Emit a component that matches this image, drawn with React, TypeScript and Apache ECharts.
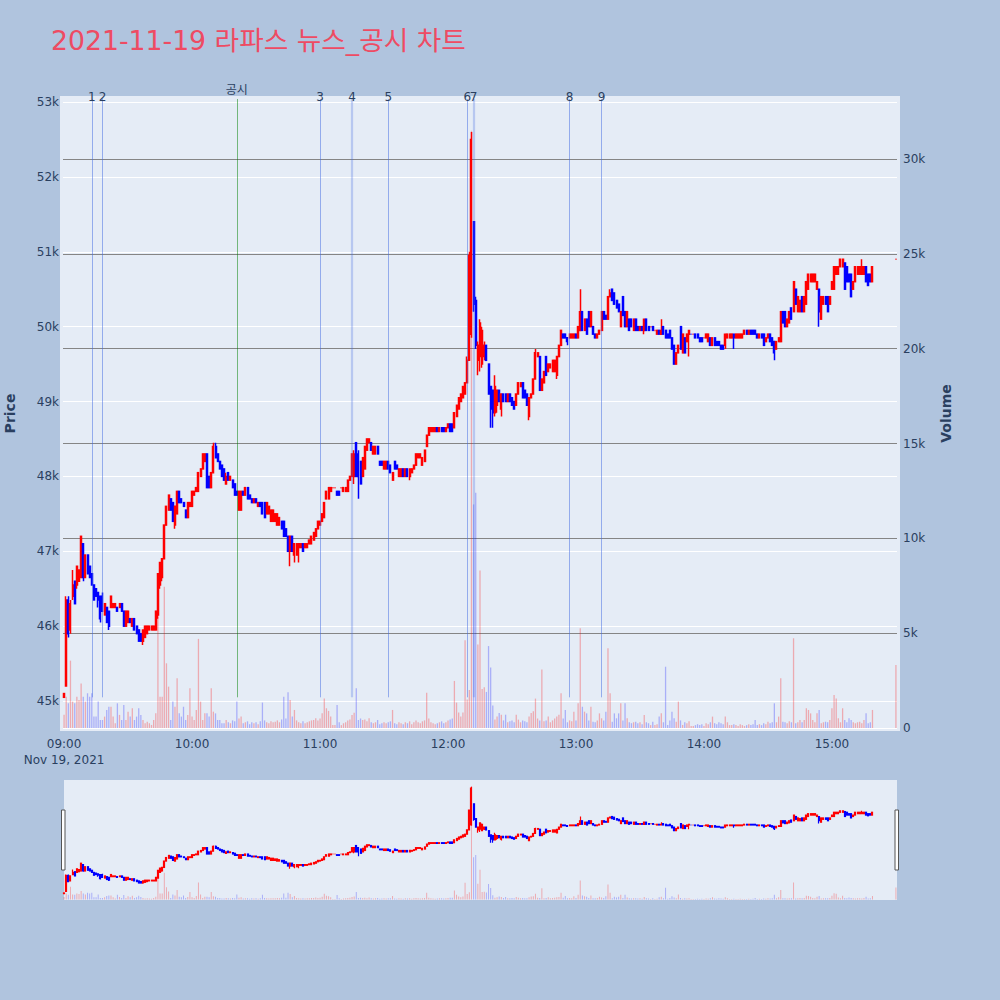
import React, { useEffect, useRef } from "react";
import * as echarts from "echarts";

const titleText = "2021-11-19 라파스 뉴스_공시 차트";
const dateLabel = "Nov 19, 2021";
const hourTicks = ["09:00", "10:00", "11:00", "12:00", "13:00", "14:00", "15:00"];

// one-minute candles starting at 09:00 (index = minutes after 09:00)
const open = [
  45050,45200,46350,45950,46400,46600,46550,46600,46650,47100,
  46650,46950,46800,46700,46550,46500,46450,46400,46400,46150,
  46250,46200,46250,46250,46250,46250,46250,46300,46200,46000,
  46050,46100,46000,46100,46000,45950,45900,45800,45850,45900,
  45950,45950,45950,45950,46150,46550,46650,46900,47350,47550,
  47700,47650,47350,47500,47800,47700,47650,47550,47450,47600,
  47600,47750,47800,47800,48000,48100,48200,48300,48000,47850,
  48050,48400,48300,48200,48150,48100,47900,48050,47950,47950,
  47900,47800,47550,47550,47800,47750,47850,47750,47700,47650,
  47700,47600,47650,47650,47650,47500,47500,47400,47400,47400,
  47350,47350,47400,47400,47300,47200,47000,47200,46950,46950,
  47050,47050,47100,47050,47050,47100,47100,47150,47200,47300,
  47350,47400,47450,47700,47700,47800,47850,47850,47800,47800,
  47850,47800,47800,47800,47950,48000,48000,48450,48300,48200,
  48000,48100,48350,48450,48450,48300,48300,48400,48200,48200,
  48100,48100,48200,48150,47950,48200,48150,48000,48000,48100,
  48000,48100,48000,48050,48100,48150,48250,48250,48150,48200,
  48400,48550,48600,48600,48600,48650,48600,48650,48650,48600,
  48650,48700,48700,48650,48800,48900,49000,49050,49100,49250,
  49550,49900,51400,50350,49550,49600,49500,49600,49750,49500,
  49200,49150,48850,48950,49150,48900,49100,49100,49000,49100,
  49050,49000,48950,49100,49200,49250,49150,49100,48800,49050,
  49100,49300,49600,49600,49150,49250,49600,49400,49450,49400,
  49400,49350,49600,49750,49900,49900,49850,49850,49850,49850,
  49900,49850,49950,50200,49950,50100,50200,50000,50000,49900,
  49850,49900,49950,50200,50150,50100,50400,50500,50450,50350,
  50300,50000,50400,50200,50000,50100,50100,49950,50100,50000,
  49950,50000,49950,50100,50000,50000,50000,49950,49900,49950,
  49900,50000,49950,49900,49950,49850,49750,49500,49650,50000,
  49650,49850,49800,49900,49900,49900,49900,49900,49850,49850,
  49850,49850,49800,49850,49750,49850,49800,49800,49750,49750,
  49750,49850,49850,49850,49900,49850,49850,49850,49850,49900,
  49950,49900,49950,49950,49950,49900,49850,49900,49900,49800,
  49850,49900,49850,49800,49700,49800,49800,50200,50200,50000,
  50050,50250,50200,50500,50200,50200,50400,50200,50300,50500,
  50600,50600,50600,50500,50500,50100,50300,50400,50400,50300,
  50500,50500,50700,50700,50800,50800,50850,50800,50700,50700,
  50500,50600,50700,50700,50700,50700,50800,50700,50700,50600,
];

const close = [
  45100,46350,45900,46300,46550,46300,46800,46750,47200,46650,
  46950,46700,46650,46550,46350,46400,46350,46100,46200,46300,
  46050,46000,46400,46300,46300,46200,46300,46200,46000,46200,
  46200,46050,46100,45950,45900,45800,45800,45950,46000,46000,
  46000,46000,46000,46200,46700,46850,46900,47350,47600,47750,
  47550,47400,47600,47800,47650,47650,47600,47450,47650,47650,
  47800,47800,47850,48050,48100,48300,48300,47850,47850,48050,
  48400,48250,48200,48100,48000,47950,48000,47950,48000,47850,
  47750,47750,47800,47800,47750,47850,47700,47700,47650,47700,
  47650,47650,47600,47500,47450,47650,47600,47550,47550,47500,
  47500,47450,47300,47200,47200,47000,47200,47000,47100,47100,
  47100,47100,47000,47100,47100,47150,47200,47250,47300,47400,
  47400,47500,47650,47800,47850,47850,47850,47850,47750,47750,
  47850,47850,47850,47950,48000,48300,48300,48000,48000,47900,
  48250,48400,48500,48500,48350,48400,48400,48300,48150,48150,
  48200,48200,48100,48050,48050,48100,48100,48100,48100,48000,
  48100,48000,48100,48100,48150,48300,48300,48300,48250,48350,
  48550,48650,48650,48650,48650,48600,48650,48600,48600,48650,
  48700,48600,48600,48850,48950,49050,49100,49200,49250,49550,
  50950,52500,50300,49750,49750,50050,49950,49750,49550,49100,
  48900,48850,49200,49150,49000,49100,49000,49000,49100,49000,
  48950,48900,49100,49250,49250,49050,49050,48950,49050,49100,
  49300,49650,49650,49150,49300,49400,49350,49500,49500,49550,
  49550,49600,49750,49950,49850,49850,49800,49900,49900,49900,
  49850,50000,50200,49950,50100,49900,50000,50200,49900,49850,
  49900,49950,50200,50100,50100,50400,50450,50350,50300,50250,
  50200,50200,50150,50000,50200,49950,50000,50100,49950,49950,
  50000,49950,50100,49950,49950,50000,49950,49950,49950,49900,
  49950,49900,49850,49850,49850,49700,49500,49650,49750,49700,
  49900,49650,49900,49950,49900,49900,49850,49850,49800,49800,
  49850,49900,49900,49750,49850,49750,49750,49750,49700,49700,
  49900,49900,49900,49900,49850,49900,49900,49900,49900,49950,
  49900,49950,49900,49900,49900,49850,49900,49850,49750,49850,
  49900,49800,49750,49650,49800,49850,50200,50050,50000,50100,
  50200,50100,50600,50300,50400,50350,50200,50400,50600,50700,
  50700,50700,50700,50600,50200,50400,50400,50300,50200,50400,
  50600,50800,50800,50800,50900,50900,50500,50600,50600,50400,
  50600,50800,50800,50800,50800,50800,50600,50550,50600,50800,
];

const low = [
  45050,45200,45850,45900,46350,46300,46500,46600,46650,46600,
  46650,46700,46650,46550,46350,46400,46250,46050,46200,46150,
  46050,45950,46250,46250,46250,46200,46250,46200,46000,46000,
  46050,46050,46000,45950,45900,45800,45800,45750,45850,45900,
  45950,45950,45950,45950,46100,46500,46600,46900,47350,47550,
  47550,47400,47300,47500,47650,47650,47600,47450,47450,47600,
  47600,47750,47800,47800,48000,48100,48200,47850,47850,47850,
  48050,48250,48200,48100,48000,47950,47900,47950,47950,47850,
  47750,47750,47550,47550,47750,47750,47700,47700,47650,47650,
  47650,47600,47600,47500,47450,47500,47500,47400,47400,47400,
  47350,47350,47300,47200,47200,47000,46800,47000,46850,46950,
  46850,47050,47000,47050,47050,47100,47100,47150,47200,47300,
  47350,47400,47450,47700,47700,47800,47850,47850,47750,47750,
  47850,47800,47800,47800,47950,48000,47900,48000,47700,47900,
  48000,48100,48350,48450,48350,48300,48300,48300,48150,48150,
  48100,48100,48100,48050,47950,48100,48100,48000,48000,48000,
  48000,48000,47950,48050,48100,48150,48250,48250,48150,48200,
  48400,48550,48600,48600,48600,48600,48600,48600,48600,48600,
  48650,48600,48600,48650,48800,48900,49000,49050,49100,49250,
  49550,49850,50200,49700,49350,49400,49450,49550,49550,49100,
  48650,48650,48800,48850,49000,48800,49000,49000,49000,49000,
  48950,48900,48950,49100,49200,49050,49050,48950,48750,49050,
  49100,49300,49600,49150,49150,49250,49350,49400,49450,49400,
  49400,49300,49600,49750,49850,49850,49750,49850,49850,49850,
  49850,49850,49950,49950,49950,49900,50000,50000,49900,49850,
  49850,49900,49950,50100,50100,50100,50400,50350,50300,50250,
  50200,50000,50150,50000,50000,49950,50000,49950,49950,49950,
  49950,49950,49900,49950,49950,50000,49950,49950,49900,49900,
  49900,49900,49850,49850,49850,49700,49500,49500,49650,49700,
  49650,49650,49800,49600,49900,49900,49850,49850,49800,49800,
  49850,49850,49800,49750,49750,49750,49750,49750,49700,49700,
  49700,49850,49850,49850,49700,49850,49850,49850,49850,49900,
  49900,49900,49900,49900,49900,49850,49850,49850,49750,49800,
  49850,49800,49750,49550,49700,49800,49800,50050,50000,50000,
  50050,50100,50200,50300,50200,50200,50200,50200,50300,50500,
  50600,50600,50600,50500,50000,50100,50300,50300,50200,50300,
  50500,50500,50700,50700,50800,50800,50500,50600,50600,50400,
  50500,50600,50700,50700,50700,50700,50600,50550,50600,50600,
];

const high = [
  45100,46400,46400,46350,46750,46600,46800,46750,47200,47100,
  46950,46950,46800,46700,46550,46500,46450,46400,46450,46300,
  46250,46200,46400,46300,46300,46250,46300,46300,46200,46200,
  46200,46100,46100,46100,46000,45950,45900,45950,46000,46000,
  46000,46000,46000,46200,46700,46850,46900,47350,47600,47750,
  47700,47650,47600,47800,47800,47700,47650,47550,47650,47650,
  47800,47800,47850,48050,48100,48300,48300,48300,48000,48050,
  48450,48450,48300,48200,48150,48100,48050,48050,48000,47950,
  47900,47800,47800,47800,47800,47850,47850,47750,47700,47700,
  47700,47650,47650,47650,47650,47650,47600,47550,47550,47500,
  47500,47450,47400,47400,47300,47200,47200,47200,47100,47100,
  47100,47100,47100,47100,47100,47150,47200,47250,47300,47400,
  47400,47500,47650,47800,47850,47850,47850,47850,47800,47800,
  47850,47850,47850,47950,48000,48300,48350,48450,48350,48200,
  48250,48400,48500,48500,48450,48400,48400,48400,48200,48200,
  48200,48200,48200,48150,48050,48200,48150,48100,48100,48100,
  48100,48100,48100,48100,48150,48300,48300,48300,48250,48350,
  48550,48650,48650,48650,48650,48650,48650,48650,48650,48650,
  48700,48700,48700,48850,48950,49050,49100,49200,49250,49600,
  51000,52600,51400,50400,49800,50100,50000,49800,49750,49500,
  49200,49150,49350,49150,49150,49100,49100,49100,49100,49100,
  49050,49000,49100,49250,49250,49250,49150,49100,49050,49100,
  49300,49700,49650,49600,49300,49400,49600,49500,49500,49550,
  49550,49600,49750,49950,49900,49900,49850,49900,49900,49900,
  49900,50000,50500,50200,50100,50100,50200,50200,50000,49900,
  49900,49950,50200,50200,50150,50400,50500,50500,50450,50350,
  50300,50200,50400,50200,50200,50100,50100,50100,50100,50000,
  50000,50000,50100,50100,50000,50000,50000,49950,49950,49950,
  50100,50000,49950,49900,49950,49850,49750,49650,49750,50000,
  49900,49850,49900,49950,49900,49900,49900,49900,49850,49850,
  49850,49900,49900,49850,49850,49850,49800,49800,49750,49750,
  49900,49900,49900,49900,49900,49900,49900,49900,49900,49950,
  49950,49950,49950,49950,49950,49900,49900,49900,49900,49850,
  49900,49900,49850,49800,49800,49850,50200,50200,50200,50100,
  50200,50250,50600,50500,50400,50350,50400,50400,50600,50700,
  50700,50700,50700,50600,50500,50400,50400,50400,50400,50400,
  50600,50800,50800,50800,50900,50900,50850,50800,50700,50700,
  50600,50800,50800,50800,50900,50800,50800,50700,50700,50800,
];

const volume = [
  700,1650,1300,3550,1390,1300,1650,1480,2350,1650,
  1390,1830,1650,1830,600,600,1390,420,420,600,
  950,1120,1120,600,250,1300,690,420,1210,420,
  860,600,1040,420,600,1040,690,420,250,330,
  250,160,420,770,5870,1650,1650,7450,3410,2180,
  420,1390,1120,2620,770,600,1120,420,690,2090,
  600,420,950,4700,1390,420,770,770,600,2090,
  860,770,420,420,250,250,420,300,250,400,
  350,1400,500,600,250,300,350,200,300,250,
  300,200,350,1340,400,300,250,350,300,330,
  400,300,450,1650,500,1880,1480,600,950,400,
  300,250,350,250,300,350,400,420,510,400,
  500,770,1560,1040,900,600,150,150,1210,300,
  150,250,300,400,450,690,800,2090,420,500,
  420,450,350,510,300,250,300,420,200,250,
  300,250,300,350,950,250,200,300,250,200,
  300,250,350,200,300,400,300,250,350,400,
  1860,500,300,250,200,250,300,350,250,300,
  400,450,500,2480,1340,820,600,820,4620,1500,
  2000,31500,11790,12400,4400,8300,2050,2150,1900,4320,
  3190,1190,440,600,790,700,400,700,300,350,
  400,300,700,440,300,400,350,300,610,790,
  880,1550,500,400,3090,350,400,610,300,400,
  500,600,700,1830,500,950,300,400,350,860,
  400,1300,5260,1120,860,770,400,1120,330,300,
  400,770,510,400,860,4200,1830,330,770,510,
  770,1300,400,1300,510,300,250,300,330,250,
  300,200,680,300,250,150,330,150,200,600,
  770,300,3230,160,400,860,510,330,1390,400,
  160,300,250,350,100,100,150,200,150,200,
  100,250,200,300,600,250,200,300,250,200,
  600,300,150,150,200,150,100,200,150,100,
  150,200,150,200,420,150,200,150,250,200,
  330,250,300,1300,300,600,2620,330,300,250,
  350,300,4730,250,300,420,300,420,1040,950,
  770,420,300,770,950,250,300,330,300,420,
  1040,1740,1560,510,300,1040,420,300,510,420,
  300,250,300,330,250,420,770,250,300,950,
];

const closingAuction = { time: "15:30", open: 50900, close: 50900, low: 50900, high: 50900, volume: 3320 };

const annotations = [
  { label: "1", time: "09:13", kind: "news", count: 1 },
  { label: "2", time: "09:18", kind: "news", count: 1 },
  { label: "공시", time: "10:21", kind: "disclosure", count: 1 },
  { label: "3", time: "11:00", kind: "news", count: 1 },
  { label: "4", time: "11:15", kind: "news", count: 2 },
  { label: "5", time: "11:32", kind: "news", count: 1 },
  { label: "6", time: "12:09", kind: "news", count: 1 },
  { label: "7", time: "12:12", kind: "news", count: 2 },
  { label: "8", time: "12:57", kind: "news", count: 1 },
  { label: "9", time: "13:12", kind: "news", count: 1 },
];

const FONT = '"DejaVu Sans", Verdana, sans-serif';
const TEXT = "#2a3f5f";
const UP = "#FF0000";
const DOWN = "#0000FF";
const UP_VOL = "rgba(255,0,0,0.28)";
const DOWN_VOL = "rgba(0,0,255,0.26)";

const toMinutes = (t: string) => {
  const [h, m] = t.split(":").map(Number);
  return (h - 9) * 60 + m;
};
const pad = (n: number) => String(n).padStart(2, "0");

export default function App() {
  const ref = useRef<HTMLDivElement>(null);

  useEffect(() => {
    if (!ref.current) return;
    const chart = echarts.init(ref.current, undefined, { renderer: "svg" });

    const candles: number[][] = open.map((o, i) => [i, o, close[i], low[i], high[i]]);
    const auctionMin = toMinutes(closingAuction.time);
    candles.push([auctionMin, closingAuction.open, closingAuction.close, closingAuction.low, closingAuction.high]);

    const vols: any[] = volume.map((v, i) => ({
      value: [i, v],
      itemStyle: { color: close[i] >= open[i] ? UP_VOL : DOWN_VOL },
    }));
    vols.push({ value: [auctionMin, closingAuction.volume], itemStyle: { color: UP_VOL } });

    const hourMinutes = hourTicks.map(toMinutes);

    const markLines = annotations.map((a) => {
      const m = toMinutes(a.time);
      const isDisc = a.kind === "disclosure";
      return [
        {
          coord: [m, 45050],
          lineStyle: isDisc
            ? { color: "rgba(0,128,0,0.5)", width: 1, type: "solid" }
            : a.count > 1
            ? { color: "rgba(65,105,225,0.28)", width: 2.2, type: "solid" }
            : { color: "rgba(65,105,225,0.5)", width: 1, type: "solid" },
          label: {
            show: true,
            position: "end",
            formatter: a.label,
            color: TEXT,
            fontSize: 12,
            fontFamily: '"DejaVu Sans", "Noto Sans CJK KR", sans-serif',
            distance: isDisc ? 3 : -4,
          },
        },
        { coord: [m, 53040] },
      ];
    });

    const candleStyle = {
      color: UP,
      color0: DOWN,
      borderColor: UP,
      borderColor0: DOWN,
      borderWidth: 1.5,
    };

    const option: any = {
      animation: false,
      backgroundColor: "#B0C4DE",
      title: {
        text: titleText,
        left: 46,
        top: 22,
        textStyle: { color: "#EE4B63", fontSize: 26.7, fontWeight: "normal", fontFamily: '"DejaVu Sans", "Noto Sans CJK KR", sans-serif' },
      },
      graphic: {
        elements: [
          { type: "rect", z: -10, silent: true, shape: { x: 60, y: 96, width: 840, height: 635 }, style: { fill: "#E5ECF6" } },
          { type: "rect", z: -10, silent: true, shape: { x: 64, y: 780, width: 833, height: 120 }, style: { fill: "#E5ECF6" } },
          { type: "rect", z: 100, silent: true, shape: { x: 61.5, y: 810, width: 3.5, height: 60 }, style: { fill: "#fff", stroke: "#555", lineWidth: 1 } },
          { type: "rect", z: 100, silent: true, shape: { x: 895, y: 810, width: 3.5, height: 60 }, style: { fill: "#fff", stroke: "#555", lineWidth: 1 } },
        ],
      },
      grid: [
        { left: 63, width: 834, top: 96, height: 635, outerBoundsMode: "none", containLabel: false },
        { left: 63, width: 834, top: 780, height: 120, outerBoundsMode: "none", containLabel: false },
      ],
      xAxis: [
        {
          type: "value",
          gridIndex: 0,
          min: -0.5,
          max: 390.5,
          axisLine: { show: false },
          axisTick: { show: false },
          splitLine: { show: false },
          axisLabel: {
            customValues: hourMinutes,
            formatter: (v: number) => {
              const s = `${pad(9 + Math.floor(v / 60))}:${pad(v % 60)}`;
              return v === 0 ? `${s}\n${dateLabel}` : s;
            },
            color: TEXT,
            fontSize: 12,
            fontFamily: FONT,
            margin: 5,
            lineHeight: 16,
          },
        },
        { type: "value", gridIndex: 1, min: -0.5, max: 390.5, show: false },
      ],
      yAxis: [
        {
          type: "value",
          gridIndex: 0,
          position: "left",
          min: 44600,
          max: 53080,
          splitNumber: 8,
          axisLine: { show: false },
          axisTick: { show: false },
          axisLabel: {
            formatter: (v: number) => `${v / 1000}k`,
            color: TEXT,
            fontSize: 12,
            fontFamily: FONT,
            margin: 4,
            showMinLabel: false,
            showMaxLabel: false,
          },
          splitLine: { lineStyle: { color: "#ffffff", width: 1 }, showMinLine: false, showMaxLine: false },
          name: "Price",
          nameLocation: "middle",
          nameGap: 46,
          nameTextStyle: { color: TEXT, fontSize: 14, fontWeight: "bold", fontFamily: FONT },
        },
        {
          type: "value",
          gridIndex: 0,
          position: "right",
          min: -160,
          max: 33330,
          splitNumber: 7,
          axisLine: { show: false },
          axisTick: { show: false },
          axisLabel: {
            formatter: (v: number) => (v === 0 ? "0" : `${v / 1000}k`),
            color: TEXT,
            fontSize: 12,
            fontFamily: FONT,
            margin: 6,
            showMinLabel: false,
            showMaxLabel: false,
          },
          splitLine: { lineStyle: { color: "#858585", width: 1 }, showMinLine: false, showMaxLine: false },
          name: "Volume",
          nameLocation: "middle",
          nameGap: 42,
          nameTextStyle: { color: TEXT, fontSize: 14, fontWeight: "bold", fontFamily: FONT },
        },
        { type: "value", gridIndex: 1, min: 44600, max: 53080, show: false },
        { type: "value", gridIndex: 1, min: -160, max: 33330, show: false },
      ],
      series: [
        {
          type: "bar",
          xAxisIndex: 0,
          yAxisIndex: 1,
          data: vols,
          barWidth: 1.3,
          z: 2,
          markLine: {
            silent: true,
            symbol: ["none", "none"],
            label: { show: false },
            lineStyle: { color: "#ffffff", width: 1, type: "solid" },
            data: [{ yAxis: 0 }],
          },
        },
        {
          type: "candlestick",
          xAxisIndex: 0,
          yAxisIndex: 0,
          data: candles,
          encode: { x: 0, y: [1, 2, 3, 4] },
          barWidth: 1.5,
          clip: false,
          z: 4,
          itemStyle: candleStyle,
          markLine: {
            silent: true,
            symbol: ["none", "none"],
            animation: false,
            data: markLines,
          },
        },
        {
          type: "bar",
          xAxisIndex: 1,
          yAxisIndex: 3,
          data: vols,
          barWidth: 1,
          z: 2,
        },
        {
          type: "candlestick",
          xAxisIndex: 1,
          yAxisIndex: 2,
          data: candles,
          encode: { x: 0, y: [1, 2, 3, 4] },
          barWidth: 1.5,
          z: 4,
          itemStyle: { ...candleStyle, borderWidth: 1.2 },
        },
      ],
    };

    chart.setOption(option);
    return () => chart.dispose();
  }, []);

  return <div ref={ref} style={{ position: "absolute", left: 0, top: 0, width: 1000, height: 1000 }} />;
}
